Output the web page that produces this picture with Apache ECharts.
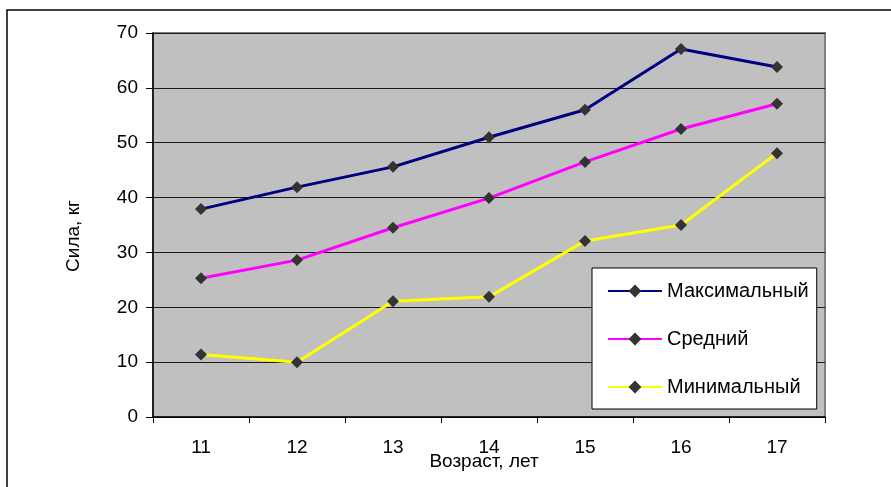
<!DOCTYPE html>
<html>
<head>
<meta charset="utf-8">
<script src="https://cdn.jsdelivr.net/npm/echarts@6/dist/echarts.min.js"></script>
<style>
  html, body { margin: 0; padding: 0; background: #fff; }
  #chart { width: 891px; height: 487px; }
</style>
</head>
<body>
<div id="chart"></div>
<script>
// Ages (years) along the x axis
const ages = ['11', '12', '13', '14', '15', '16', '17'];
// Grip strength, kg
const maxValues = [37.9, 41.9, 45.6, 51.0, 56.0, 67.1, 63.8];
const meanValues = [25.3, 28.6, 34.5, 39.9, 46.5, 52.5, 57.1];
const minValues = [11.4, 10.0, 21.1, 21.9, 32.1, 35.0, 48.1];
const seriesNames = ['Максимальный', 'Средний', 'Минимальный'];
const seriesColors = ['#000080', '#ff00ff', '#ffff00'];

const font = '"Liberation Sans", Arial, sans-serif';
const chart = echarts.init(document.getElementById('chart'));

function lineSeries(name, data, color) {
  return {
    name: name,
    type: 'line',
    data: data,
    symbol: 'diamond',
    symbolSize: 12,
    lineStyle: { color: color, width: 3 },
    itemStyle: { color: '#333333', borderWidth: 0 },
    emphasis: { disabled: true },
    animation: false,
    z: 3
  };
}

chart.setOption({
  animation: false,
  backgroundColor: '#ffffff',
  textStyle: { fontFamily: font },
  graphic: [{
    type: 'rect',
    shape: { x: 7, y: 10, width: 950, height: 550 },
    style: { fill: 'none', stroke: '#000', lineWidth: 1.5 },
    silent: true,
    z: -10
  }],
  grid: {
    left: 153, top: 33, right: 66, bottom: 70,
    show: true,
    backgroundColor: '#c0c0c0',
    borderColor: '#808080',
    borderWidth: 2
  },
  legend: {
    orient: 'vertical',
    left: 592,
    top: 268,
    data: seriesNames,
    backgroundColor: '#ffffff',
    borderColor: '#000000',
    borderWidth: 1,
    padding: [13, 8, 12, 15],
    itemWidth: 54,
    itemHeight: 16,
    itemGap: 28,
    selectedMode: false,
    textStyle: { fontFamily: font, fontSize: 20, color: '#000', lineHeight: 16 }
  },
  xAxis: {
    type: 'category',
    data: ages,
    boundaryGap: true,
    name: 'Возраст, лет',
    nameLocation: 'middle',
    nameGap: 35,
    nameMoveOverlap: false,
    nameTextStyle: { fontFamily: font, fontSize: 19, color: '#000', padding: [0, 10, 0, 0] },
    axisLine: { show: true, lineStyle: { color: '#000', width: 1.5 } },
    axisTick: { show: true, length: 6, lineStyle: { color: '#000' } },
    axisLabel: { fontFamily: font, fontSize: 19, color: '#000', margin: 21 },
    splitLine: { show: false }
  },
  yAxis: {
    type: 'value',
    min: 0,
    max: 70,
    interval: 10,
    name: 'Сила, кг',
    nameLocation: 'middle',
    nameGap: 70,
    nameRotate: 90,
    nameMoveOverlap: false,
    nameTextStyle: { fontFamily: font, fontSize: 19, color: '#000', padding: [0, 22, 0, 0] },
    axisLine: { show: true, lineStyle: { color: '#000', width: 1.5 } },
    axisTick: { show: true, length: 7, lineStyle: { color: '#000' } },
    axisLabel: { fontFamily: font, fontSize: 19, color: '#000', margin: 15 },
    splitLine: { show: true, lineStyle: { color: '#1a1a1a', width: 1 } }
  },
  series: [
    lineSeries(seriesNames[0], maxValues, seriesColors[0]),
    lineSeries(seriesNames[1], meanValues, seriesColors[1]),
    lineSeries(seriesNames[2], minValues, seriesColors[2])
  ]
});
</script>
</body>
</html>
